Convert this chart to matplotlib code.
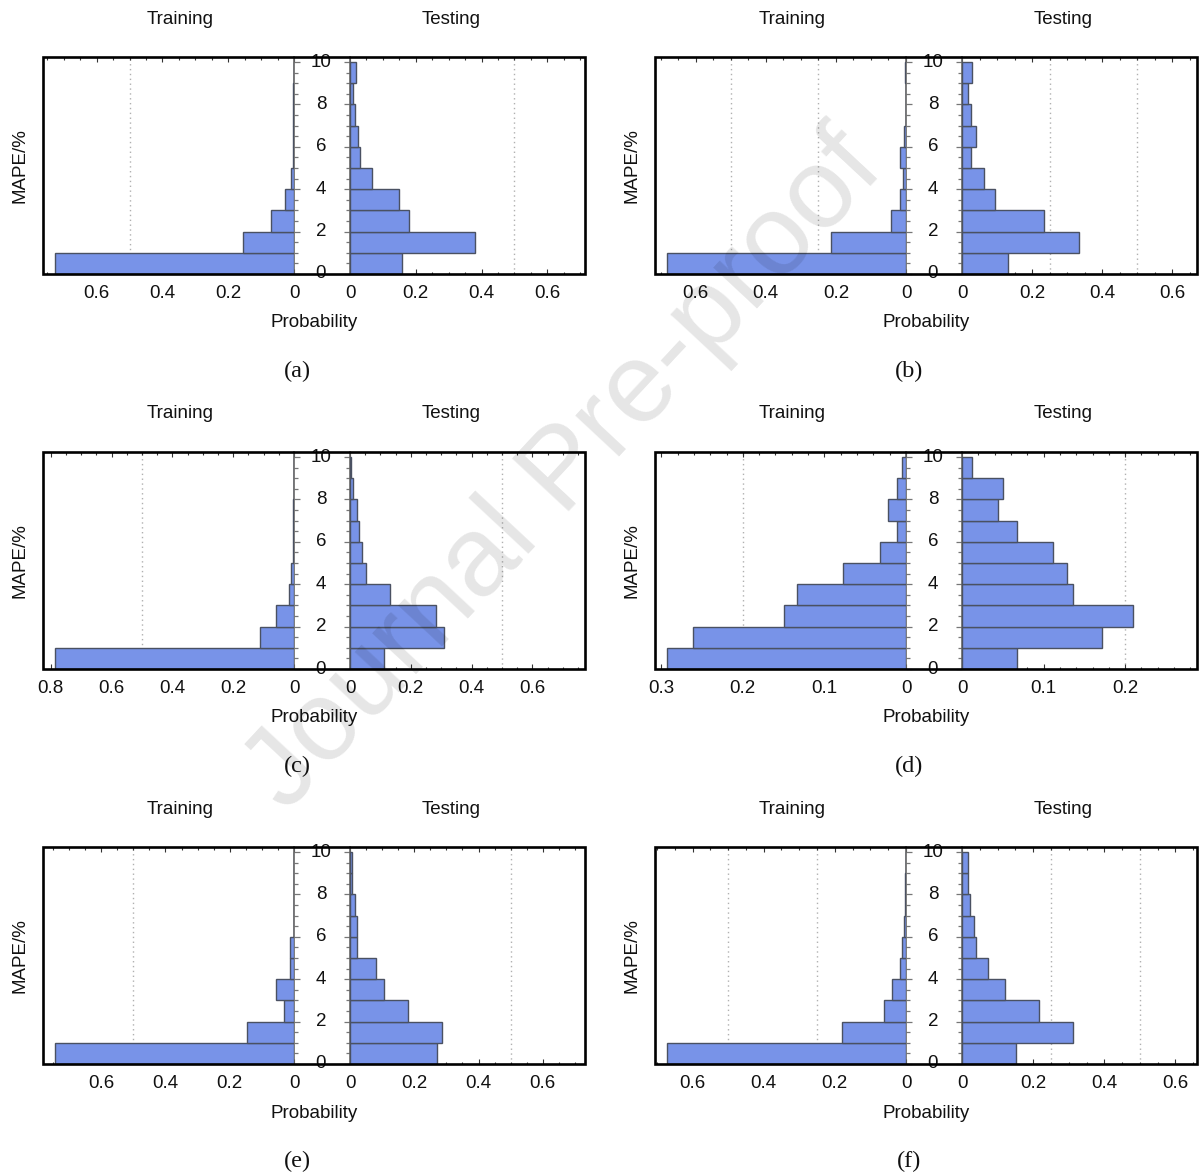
import numpy as np
import matplotlib
matplotlib.use("Agg")
import matplotlib.pyplot as plt
from matplotlib.patches import Rectangle
from matplotlib.ticker import MultipleLocator, FuncFormatter
import matplotlib.transforms as mtrans

# ---------------- data ----------------
bin_edges = [0, 1, 2, 3, 4, 5, 6, 7, 8, 9]   # lower edge of each MAPE bin (%)
bin_width = 1.0
y_ticks = [0, 2, 4, 6, 8, 10]

train_a = [0.727, 0.155, 0.070, 0.026, 0.008, 0.003, 0.003, 0.003, 0.003, 0.0]
test_a = [0.157, 0.380, 0.178, 0.149, 0.066, 0.031, 0.023, 0.014, 0.009, 0.017]

train_b = [0.682, 0.215, 0.044, 0.016, 0.008, 0.016, 0.005, 0.001, 0.0, 0.002]
test_b = [0.131, 0.333, 0.233, 0.095, 0.062, 0.027, 0.041, 0.027, 0.016, 0.029]

train_c = [0.786, 0.113, 0.060, 0.018, 0.009, 0.003, 0.002, 0.002, 0.0, 0.0]
test_c = [0.111, 0.309, 0.284, 0.130, 0.054, 0.040, 0.030, 0.024, 0.011, 0.002]

train_d = [0.293, 0.261, 0.149, 0.133, 0.077, 0.032, 0.011, 0.022, 0.011, 0.005]
test_d = [0.067, 0.172, 0.210, 0.136, 0.129, 0.111, 0.067, 0.044, 0.050, 0.012]

train_e = [0.744, 0.146, 0.030, 0.055, 0.014, 0.014, 0.0, 0.0, 0.0, 0.0]
test_e = [0.271, 0.286, 0.182, 0.107, 0.081, 0.021, 0.021, 0.015, 0.007, 0.007]

train_f = [0.672, 0.180, 0.061, 0.040, 0.018, 0.012, 0.005, 0.004, 0.002, 0.001]
test_f = [0.152, 0.312, 0.217, 0.120, 0.073, 0.038, 0.035, 0.022, 0.016, 0.016]

panel_labels = ["(a)", "(b)", "(c)", "(d)", "(e)", "(f)"]
major_steps = [0.2, 0.2, 0.2, 0.1, 0.2, 0.2]
minor_steps = [0.05, 0.05, 0.05, 0.02, 0.05, 0.05]
grid_values = [[0.5], [0.25, 0.5], [0.5], [0.2], [0.5], [0.25, 0.5]]

trains = [train_a, train_b, train_c, train_d, train_e, train_f]
tests = [test_a, test_b, test_c, test_d, test_e, test_f]

# ---------------- style ----------------
W, H = 1199, 1176
BAR = "#7893e8"
EDGE = "#4a5162"
GRID = "#b0b0b0"
TXT = "#111111"
SANS = ["Liberation Sans", "DejaVu Sans"]
SERIF = ["Liberation Serif", "DejaVu Serif"]
FS = 13.5

fig = plt.figure(figsize=(W / 100, H / 100), dpi=100)


def fx(px):
    return px / W


def fy(py):
    return 1 - py / H


def fmt(v, pos):
    v = round(v, 3)
    if abs(v) < 1e-9:
        return "0"
    return f"{v:g}"


frame_lefts = [43, 655]
frame_rights = [585, 1197]
frame_tops = [57, 452, 847]
LW_LEFT = 251   # training axes width (px)
LW_RIGHT = 235  # testing axes width (px)
AX_H = 217
YTOP = 10.24

for i in range(6):
    row, col = divmod(i, 2)
    FL, FR = frame_lefts[col], frame_rights[col]
    FT = frame_tops[row]
    FB = FT + AX_H
    ZL = FL + LW_LEFT
    ZR = FR - LW_RIGHT

    axL = fig.add_axes([fx(FL), fy(FB), LW_LEFT / W, AX_H / H])
    axR = fig.add_axes([fx(ZR), fy(FB), LW_RIGHT / W, AX_H / H])

    lim = 1.05 * max(trains[i])
    limR = lim * LW_RIGHT / LW_LEFT

    axL.barh(bin_edges, trains[i], height=bin_width, align="edge",
             color=BAR, edgecolor=EDGE, linewidth=1.0, zorder=3)
    axR.barh(bin_edges, tests[i], height=bin_width, align="edge",
             color=BAR, edgecolor=EDGE, linewidth=1.0, zorder=3)

    axL.set_xlim(lim, 0)
    axR.set_xlim(0, limR)
    for ax in (axL, axR):
        ax.set_ylim(0, YTOP)
        ax.patch.set_alpha(0)
        for g in grid_values[i]:
            ax.axvline(g, color=GRID, ls=(0, (1, 2.5)), lw=1.0, zorder=1)
        ax.xaxis.set_major_locator(MultipleLocator(major_steps[i]))
        ax.xaxis.set_minor_locator(MultipleLocator(minor_steps[i]))
        ax.xaxis.set_major_formatter(FuncFormatter(fmt))
        ax.tick_params(axis="x", which="both", direction="in", top=True,
                       bottom=True, color="#333333", width=0.8,
                       labelsize=FS, labelcolor=TXT, pad=8)
        ax.tick_params(axis="x", which="major", length=3.5)
        ax.tick_params(axis="x", which="minor", length=1.8)
        for lab in ax.get_xticklabels():
            lab.set_fontfamily(SANS)
        ax.yaxis.set_major_locator(MultipleLocator(2))
        ax.yaxis.set_minor_locator(MultipleLocator(0.5))
        for s in ax.spines.values():
            s.set_visible(False)

    axL.spines["right"].set_visible(True)
    axL.spines["right"].set_color("#666666")
    axL.spines["right"].set_linewidth(1.2)
    axL.yaxis.set_ticks_position("right")
    axL.tick_params(axis="y", which="both", direction="out", color="#777777",
                    width=0.9, labelright=False, labelleft=False)
    axL.tick_params(axis="y", which="major", length=4.5)
    axL.tick_params(axis="y", which="minor", length=3.0)

    axR.spines["left"].set_visible(True)
    axR.spines["left"].set_color("#666666")
    axR.spines["left"].set_linewidth(1.2)
    axR.yaxis.set_ticks_position("left")
    axR.tick_params(axis="y", which="both", direction="out", color="#777777",
                    width=0.9, labelright=False, labelleft=False)
    axR.tick_params(axis="y", which="major", length=4.5)
    axR.tick_params(axis="y", which="minor", length=3.0)

    # centred MAPE tick labels in the gap
    tr = mtrans.blended_transform_factory(fig.transFigure, axL.transData)
    xc = fx((ZL + ZR) / 2 - 1)
    for yt in y_ticks:
        fig.text(xc, yt, str(yt), transform=tr, ha="center", va="center",
                 fontsize=FS, color=TXT, family=SANS, zorder=4)

    # outer frame
    fig.add_artist(Rectangle((fx(FL), fy(FB)), (FR - FL) / W, AX_H / H,
                             transform=fig.transFigure, fill=False,
                             edgecolor="black", linewidth=1.9, zorder=6))

    # titles and labels
    fig.text(fx(FL + 137), fy(FT - 38), "Training", ha="center", va="center",
             fontsize=FS, color=TXT, family=SANS)
    fig.text(fx(FL + 408), fy(FT - 38), "Testing", ha="center", va="center",
             fontsize=FS, color=TXT, family=SANS)
    fig.text(fx((FL + FR) / 2), fy(FB + 49), "Probability", ha="center",
             va="center", fontsize=FS, color=TXT, family=SANS)
    fig.text(fx(FL - 23), fy((FT + FB) / 2), "MAPE/%", ha="center",
             va="center", rotation=90, fontsize=FS, color=TXT, family=SANS)
    fig.text(fx(FL + 254), fy(FB + 97), panel_labels[i], ha="center",
             va="center", fontsize=17.5, color=TXT, family=SERIF)

# watermark
fig.text(fx(565), fy(472), "Journal Pre-proof", ha="center", va="center",
         rotation=47, fontsize=82, color="black", alpha=0.1, family=SANS,
         zorder=10)

fig.savefig("out.png", dpi=100)
